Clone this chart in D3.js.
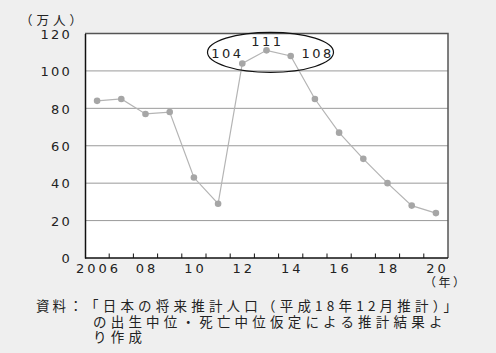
<!DOCTYPE html>
<html><head><meta charset="utf-8">
<script src="https://cdn.jsdelivr.net/npm/d3@7/dist/d3.min.js"></script>
<style>
html,body{margin:0;padding:0;background:#efefef;}
svg{display:block;}
text{font-family:"Noto Sans CJK JP","DejaVu Sans",sans-serif;fill:#222;}
.num{font-family:"DejaVu Sans",sans-serif;}
</style></head>
<body>
<svg id="c" width="496" height="353"></svg>
<script>
const years = ["2006","2007","2008","2009","2010","2011","2012","2013","2014","2015","2016","2017","2018","2019","2020"];
const values = [84,85,77,78,43,29,104,111,108,85,67,53,40,28,24];
const xTickLabels = {"2006":"2006","2008":"08","2010":"10","2012":"12","2014":"14","2016":"16","2018":"18","2020":"20"};
const yTicks = [0,20,40,60,80,100,120];
const highlighted = ["2012","2013","2014"];
const yUnit = "（万人）";
const xUnit = "（年）";
const notes = ["資料：","「日本の将来推計人口（平成18年12月推計）」","の出生中位・死亡中位仮定による推計結果よ","り作成"];

const svg = d3.select("#c");
const L=85,R=448,T=33.5,B=258;
const x = d3.scaleBand().domain(years).range([L,R]).padding(0);
const y = d3.scaleLinear().domain([0,120]).range([B,T]);
const cxOf = d => x(d)+x.bandwidth()/2;

svg.append("rect").attr("x",L).attr("y",T).attr("width",R-L).attr("height",B-T).attr("fill","#fff");
// gridlines
svg.append("g").selectAll("line").data(yTicks.filter(d=>d>0&&d<120)).join("line")
  .attr("x1",L).attr("x2",R).attr("y1",d=>y(d)).attr("y2",d=>y(d))
  .attr("stroke","#9a9a9a").attr("stroke-width",1);
// top & right border
svg.append("path").attr("d",`M${L},${T}H${R}V${B}`).attr("fill","none").attr("stroke","#555").attr("stroke-width",1.5);

// y axis
const ya = svg.append("g").attr("transform",`translate(${L},0)`)
  .call(d3.axisLeft(y).tickValues(yTicks).tickSize(0).tickPadding(0));
ya.select(".domain").attr("stroke","#111").attr("stroke-width",1.5);
ya.selectAll("text").attr("class","num").attr("x",-13).attr("dy","0.36em")
  .style("font-size","13px").style("letter-spacing","2.2px").attr("fill","#222");

// x axis: ticks at band boundaries, inward
const xa = svg.append("g").attr("transform",`translate(0,${B})`);
xa.append("line").attr("x1",L).attr("x2",R).attr("y1",0).attr("y2",0).attr("stroke","#111").attr("stroke-width",1.5);
xa.selectAll("line.tk").data(years.slice(1)).join("line").attr("class","tk")
  .attr("x1",d=>x(d)).attr("x2",d=>x(d)).attr("y1",0).attr("y2",-4.5).attr("stroke","#111");
xa.selectAll("text").data(years.filter(d=>xTickLabels[d])).join("text").attr("class","num")
  .attr("x",d=>cxOf(d)+1.5).attr("y",14.5).attr("text-anchor","middle")
  .style("font-size","13px").style("letter-spacing","3px")
  .text(d=>xTickLabels[d]);

// line
const line = d3.line().x((d,i)=>cxOf(years[i])).y(d=>y(d));
svg.append("path").datum(values).attr("d",line).attr("fill","none").attr("stroke","#b4b4b4").attr("stroke-width",1.2);
svg.append("g").selectAll("circle").data(values).join("circle")
  .attr("cx",(d,i)=>cxOf(years[i])).attr("cy",d=>y(d)).attr("r",3.3).attr("fill","#a6a6a6");

// highlight ellipse
const hx = highlighted.map(cxOf);
const hv = highlighted.map(d=>values[years.indexOf(d)]);
svg.append("ellipse").attr("cx",hx[1]+4).attr("cy",y(hv[1])+2).attr("rx",63).attr("ry",20)
  .attr("fill","none").attr("stroke","#111").attr("stroke-width",1.2);
const lab = svg.append("g").attr("class","num").style("font-size","13px").style("letter-spacing","2.5px");
lab.append("text").attr("class","num").attr("x",hx[0]-15).attr("y",y(hv[0])-5).attr("text-anchor","middle").text(hv[0]);
lab.append("text").attr("class","num").attr("x",hx[1]+1).attr("y",y(hv[1])-4).attr("text-anchor","middle").text(hv[1]);
lab.append("text").attr("class","num").attr("x",hx[2]+27).attr("y",y(hv[2])+2.5).attr("text-anchor","middle").text(hv[2]);

// units
svg.append("text").attr("x",20).attr("y",24.5).style("font-size","12.5px").style("letter-spacing","4px").text(yUnit);
svg.append("text").attr("x",424).attr("y",287).style("font-size","12px").style("letter-spacing","2.5px").text(xUnit);

// notes
const nt = svg.append("g").style("font-size","13.5px").style("letter-spacing","4.2px").attr("fill","#333");
nt.append("text").attr("x",36).attr("y",311).style("letter-spacing","3px").text(notes[0]);
nt.append("text").attr("x",85).attr("y",311).text(notes[1]);
nt.append("text").attr("x",93).attr("y",327).text(notes[2]);
nt.append("text").attr("x",93).attr("y",342).text(notes[3]);
</script>
</body></html>
